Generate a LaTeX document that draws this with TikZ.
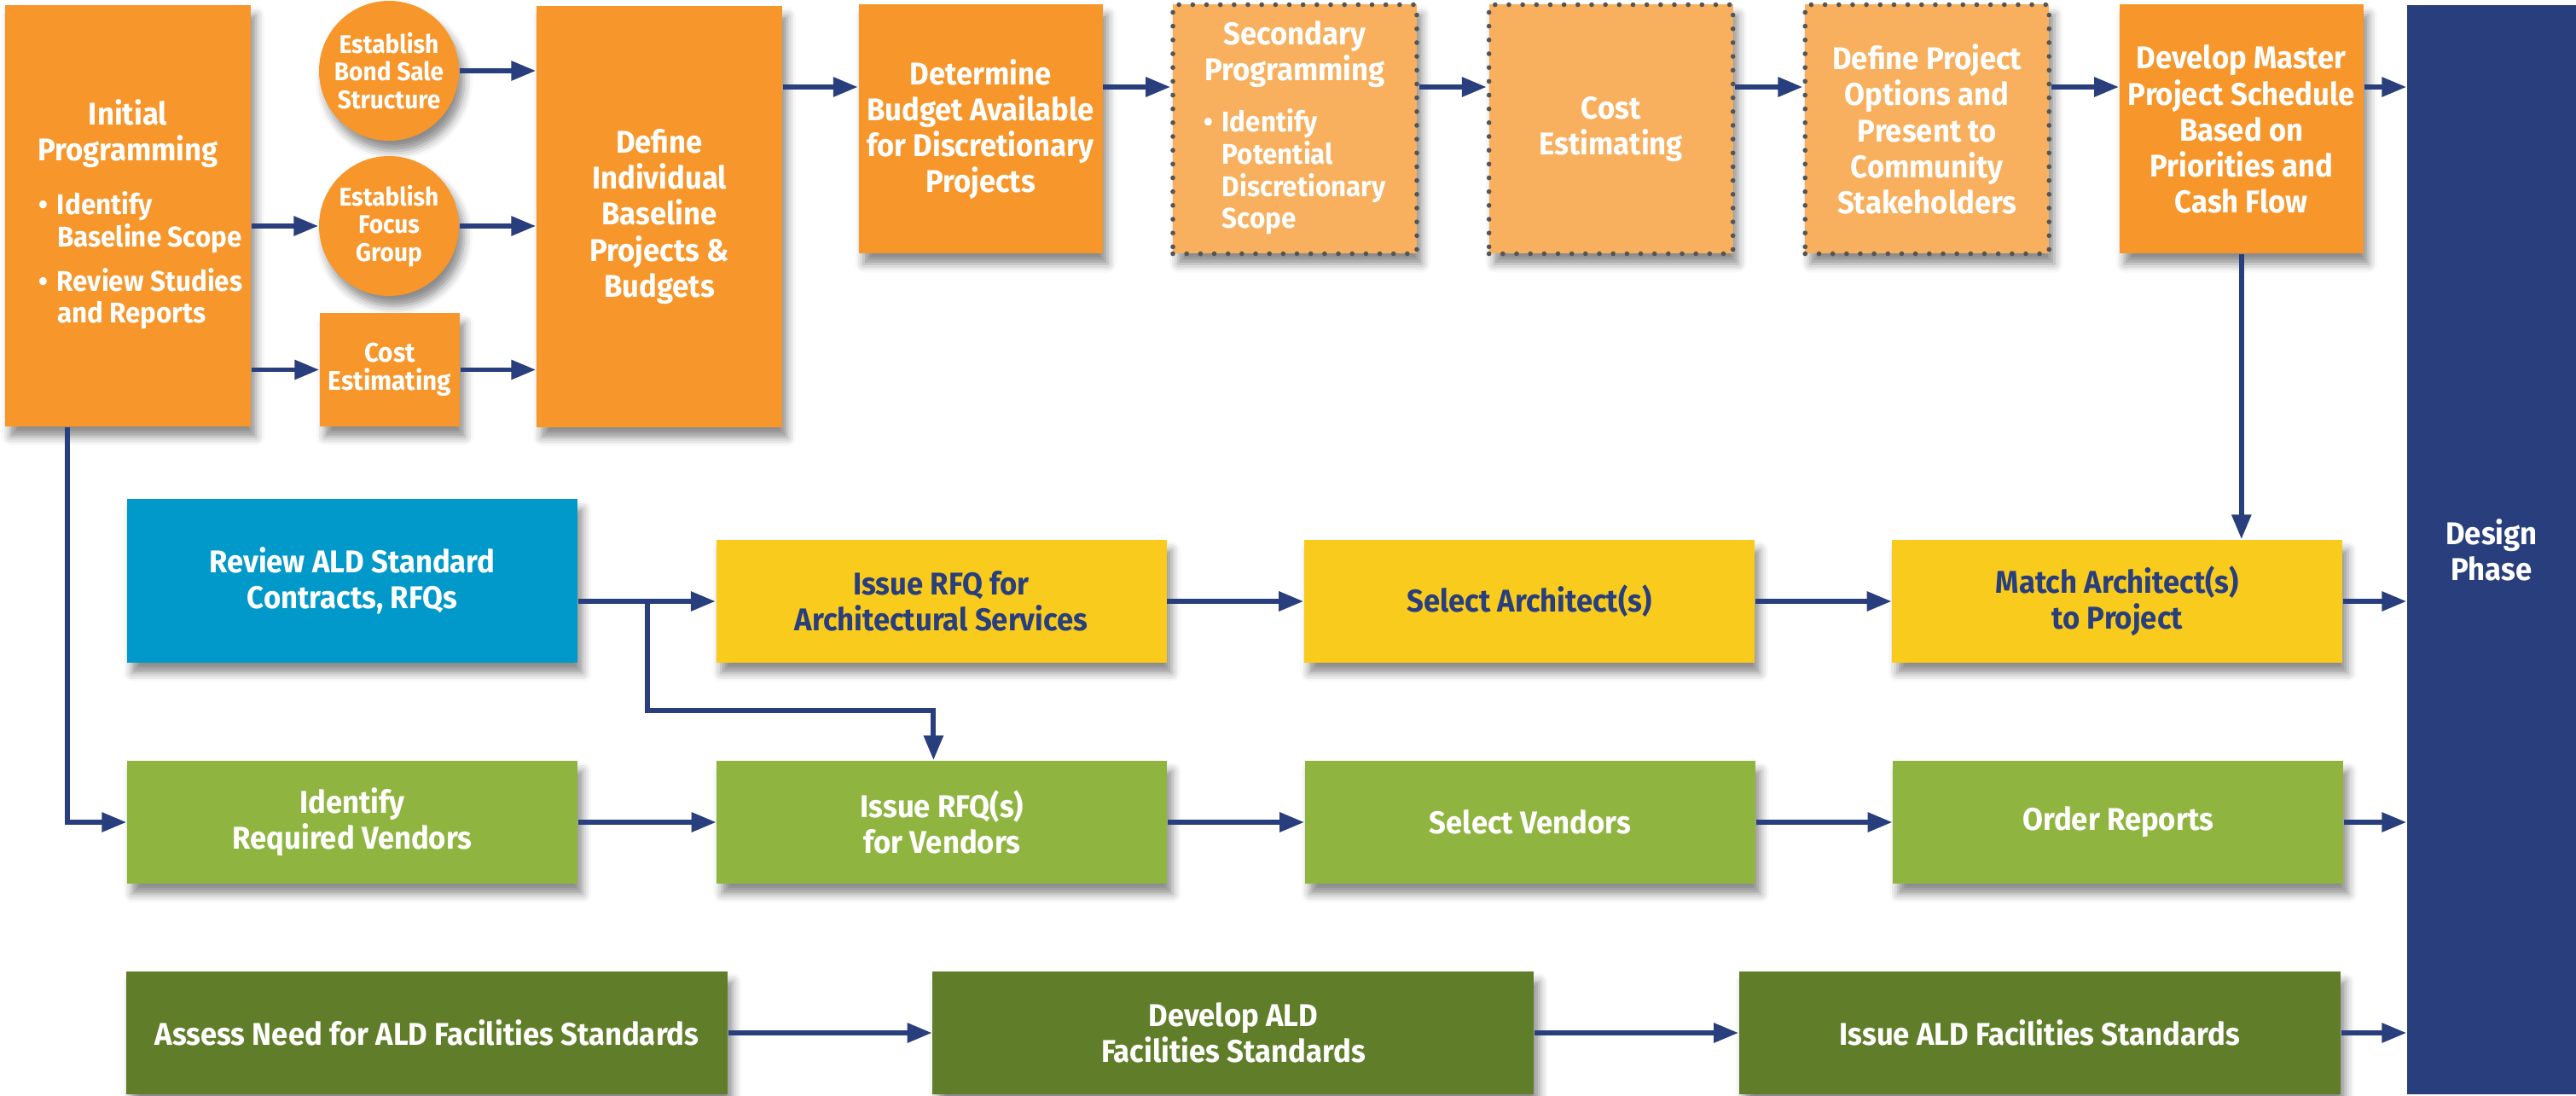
\documentclass[tikz,border=0pt]{standalone}
\usepackage{fontspec}
\setmainfont{Fira Sans}[FakeStretch=0.94]
\usepackage{tikz}
\usetikzlibrary{arrows.meta,positioning,shadows.blur}
\definecolor{aldorange}{HTML}{F7962A}
\definecolor{aldlight}{HTML}{F8B05E}
\definecolor{aldblue}{HTML}{0099C9}
\definecolor{aldyellow}{HTML}{F9CB1C}
\definecolor{aldlime}{HTML}{8FB540}
\definecolor{aldolive}{HTML}{607E2A}
\definecolor{aldnavy}{HTML}{293E7D}
\definecolor{alddots}{HTML}{555555}

\begin{document}
\begin{tikzpicture}[
            font=\bfseries\fontsize{10.5}{12}\selectfont,
            box/.style={rectangle, fill=aldorange, text=white, align=center, inner sep=1pt,
                blur shadow={shadow xshift=0.06cm, shadow yshift=-0.12cm, shadow blur radius=0.1cm, shadow opacity=45}},
            bigbox/.style={box, minimum width=2.88cm, minimum height=4.94cm},
            topbox/.style={box, minimum width=2.86cm, minimum height=2.92cm},
            dotbox/.style={topbox, fill=aldlight, draw=alddots, line width=1.6pt, dash pattern=on 0pt off 4.6pt, line cap=round},
            bubble/.style={box, circle, minimum size=1.64cm, inner sep=0pt, font=\bfseries\fontsize{8.5}{9.2}\selectfont},
            rowbox/.style={box, minimum width=5.28cm, minimum height=1.44cm},
            archbox/.style={rowbox, fill=aldyellow, text=aldnavy},
            vendbox/.style={rowbox, fill=aldlime},
            stdbox/.style={box, fill=aldolive, minimum width=7.05cm, minimum height=1.44cm},
            phase/.style={rectangle, fill=aldnavy, text=white, align=center, minimum width=1.98cm, minimum height=12.77cm},
            arrow/.style={-{Triangle[length=0.29cm, width=0.22cm]}, line width=1.7pt, draw=aldnavy}
        ]
            \useasboundingbox (0,0) rectangle (30.2,-12.85);

            \node[bigbox] (initprog) at (1.50,-2.53) {Initial\\Programming\\[7pt]\hspace{0.3cm}{\fontsize{9.5}{10.5}\selectfont\begin{tabular}{@{}l@{\hspace{3pt}}l@{}}\textbullet & Identify\\ & Baseline Scope\\[4pt] \textbullet & Review Studies\\ & and Reports\end{tabular}}};
            \node[bubble] (bond) at (4.56,-0.83) {Establish\\Bond Sale\\Structure};
            \node[bubble] (focus) at (4.56,-2.65) {Establish\\Focus\\Group};
            \node[box, minimum width=1.64cm, minimum height=1.33cm, font=\bfseries\fontsize{9}{9.5}\selectfont] (costsmall) at (4.57,-4.335) {Cost\\Estimating};
            \node[bigbox] (defbase) at (7.73,-2.54) {Define\\Individual\\Baseline\\Projects \&\\Budgets};

            \node[topbox] (budget) at (11.495,-1.515) {Determine\\Budget Available\\for Discretionary\\Projects};
            \node[dotbox, right=0.79cm of budget] (secprog) {Secondary\\Programming\\[6pt]{\fontsize{9.5}{10.5}\selectfont\begin{tabular}{@{}l@{\hspace{3pt}}l@{}}\textbullet & Identify\\ & Potential\\ & Discretionary\\ & Scope\end{tabular}}};
            \node[dotbox, right=0.79cm of secprog] (costest) {Cost\\Estimating};
            \node[dotbox, right=0.79cm of costest] (options) {Define Project\\Options and\\Present to\\Community\\Stakeholders};
            \node[topbox, right=0.79cm of options] (master) {Develop Master\\Project Schedule\\Based on\\Priorities and\\Cash Flow};
            \node[phase] (design) at (29.21,-6.445) {Design\\Phase};

            \node[box, fill=aldblue, minimum width=5.28cm, minimum height=1.92cm] (review) at (4.13,-6.81) {Review ALD Standard\\Contracts, RFQs};
            \node[archbox] (rfqarch) at (11.035,-7.05) {Issue RFQ for\\Architectural Services};
            \node[archbox, right=1.6cm of rfqarch] (selarch) {Select Architect(s)};
            \node[archbox, right=1.6cm of selarch] (match) {Match Architect(s)\\to Project};

            \node[vendbox] (identify) at (4.13,-9.64) {Identify\\Required Vendors};
            \node[vendbox, right=1.62cm of identify] (rfqvend) {Issue RFQ(s)\\for Vendors};
            \node[vendbox, right=1.6cm of rfqvend] (selvend) {Select Vendors};
            \node[vendbox, right=1.6cm of selvend] (order) {Order Reports};

            \node[stdbox] (assess) at (5.005,-12.11) {Assess Need for ALD Facilities Standards};
            \node[stdbox, right=2.39cm of assess] (devald) {Develop ALD\\Facilities Standards};
            \node[stdbox, right=2.39cm of devald] (issueald) {Issue ALD Facilities Standards};

            \coordinate (toplane) at (0,-1.02);
            \coordinate (split) at (7.59,-7.05);

            \draw[arrow] (initprog.east |- focus.west) -- (focus.west);
            \draw[arrow] (initprog.east |- costsmall.west) -- (costsmall.west);
            \draw[arrow] (bond.east) -- (bond.east -| defbase.west);
            \draw[arrow] (focus.east) -- (focus.east -| defbase.west);
            \draw[arrow] (costsmall.east) -- (costsmall.east -| defbase.west);
            \draw[arrow] (defbase.east |- toplane) -- (budget.west |- toplane);
            \draw[arrow] (budget.east |- toplane) -- (secprog.west |- toplane);
            \draw[arrow] (secprog.east |- toplane) -- (costest.west |- toplane);
            \draw[arrow] (costest.east |- toplane) -- (options.west |- toplane);
            \draw[arrow] (options.east |- toplane) -- (master.west |- toplane);
            \draw[arrow] (master.east |- toplane) -- (design.west |- toplane);
            \draw[arrow] (master.south) -- (master.south |- match.north);
            \draw[arrow] ([xshift=-0.71cm]initprog.south) |- (identify.west);

            \draw[arrow] (review.east |- rfqarch.west) -- (rfqarch.west);
            \draw[arrow] (split) -- ++(0,-1.28) -| ([xshift=-0.1cm]rfqvend.north);
            \draw[arrow] (rfqarch) -- (selarch);
            \draw[arrow] (selarch) -- (match);
            \draw[arrow] (match.east) -- (match.east -| design.west);

            \draw[arrow] (identify) -- (rfqvend);
            \draw[arrow] (rfqvend) -- (selvend);
            \draw[arrow] (selvend) -- (order);
            \draw[arrow] (order.east) -- (order.east -| design.west);

            \draw[arrow] (assess) -- (devald);
            \draw[arrow] (devald) -- (issueald);
            \draw[arrow] (issueald.east) -- (issueald.east -| design.west);
        \end{tikzpicture}
\end{document}
